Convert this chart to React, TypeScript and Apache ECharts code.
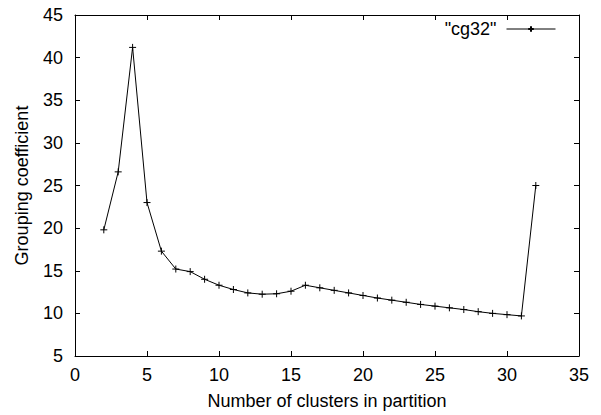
import React, { useEffect, useRef } from "react";
import * as echarts from "echarts";

const xValues = [2, 3, 4, 5, 6, 7, 8, 9, 10, 11, 12, 13, 14, 15, 16, 17, 18, 19, 20, 21, 22, 23, 24, 25, 26, 27, 28, 29, 30, 31, 32];
const yValues = [19.8, 26.6, 41.2, 23.0, 17.3, 15.2, 14.9, 14.0, 13.3, 12.8, 12.4, 12.25, 12.3, 12.6, 13.3, 13.0, 12.7, 12.4, 12.1, 11.8, 11.55, 11.3, 11.05, 10.85, 10.65, 10.45, 10.2, 10.0, 9.85, 9.7, 25.0];
const seriesName = '"cg32"';
const xAxisTitle = "Number of clusters in partition";
const yAxisTitle = "Grouping coefficient";

const FONT = "Liberation Sans";
const FS = 18;

export default function App() {
  const ref = useRef<HTMLDivElement>(null);
  useEffect(() => {
    if (!ref.current) return;
    const chart = echarts.init(ref.current, undefined, { renderer: "svg" });
    const axisLineStyle = { color: "#000", width: 1 };
    const plus = "path://M0,-1L0,1M-1,0L1,0";
    chart.setOption({
      animation: false,
      backgroundColor: "#fff",
      grid: { left: 75, right: 22, top: 15, bottom: 58 },
      legend: {
        top: 20,
        right: 45,
        align: "right",
        itemWidth: 49,
        itemHeight: 7,
        itemGap: 0,
        padding: 0,
        lineStyle: { width: 1, color: "#000" },
        textStyle: { fontFamily: FONT, fontSize: FS, color: "#000", padding: [0, 5, 0, 0] },
        data: [{ name: seriesName }],
      },
      xAxis: [
        {
          type: "value",
          min: 0,
          max: 35,
          interval: 5,
          name: xAxisTitle,
          nameLocation: "middle",
          nameGap: 36,
          nameTextStyle: { fontFamily: FONT, fontSize: FS, color: "#000" },
          axisLine: { show: true, onZero: false, lineStyle: axisLineStyle },
          axisTick: { show: true, inside: true, length: 5, lineStyle: axisLineStyle },
          axisLabel: { fontFamily: FONT, fontSize: FS, color: "#000", margin: 10 },
          splitLine: { show: false },
        },
        {
          type: "value",
          position: "top",
          min: 0,
          max: 35,
          interval: 5,
          axisLine: { show: true, onZero: false, lineStyle: axisLineStyle },
          axisTick: { show: true, inside: true, length: 5, lineStyle: axisLineStyle },
          axisLabel: { show: false },
          splitLine: { show: false },
        },
      ],
      yAxis: [
        {
          type: "value",
          min: 5,
          max: 45,
          interval: 5,
          name: yAxisTitle,
          nameLocation: "middle",
          nameGap: 44,
          nameRotate: 90,
          nameTextStyle: { fontFamily: FONT, fontSize: FS, color: "#000" },
          axisLine: { show: true, onZero: false, lineStyle: axisLineStyle },
          axisTick: { show: true, inside: true, length: 5, lineStyle: axisLineStyle },
          axisLabel: { fontFamily: FONT, fontSize: FS, color: "#000", margin: 12 },
          splitLine: { show: false },
        },
        {
          type: "value",
          position: "right",
          min: 5,
          max: 45,
          interval: 5,
          axisLine: { show: true, onZero: false, lineStyle: axisLineStyle },
          axisTick: { show: true, inside: true, length: 5, lineStyle: axisLineStyle },
          axisLabel: { show: false },
          splitLine: { show: false },
        },
      ],
      series: [
        {
          name: seriesName,
          type: "line",
          xAxisIndex: 0,
          yAxisIndex: 0,
          data: xValues.map((x, i) => [x, yValues[i]]),
          symbol: plus,
          symbolSize: 7,
          showSymbol: true,
          lineStyle: { color: "#000", width: 1 },
          itemStyle: { color: "#000", borderColor: "#000", borderWidth: 1 },
        },
      ],
    });
    return () => chart.dispose();
  }, []);
  return <div ref={ref} style={{ position: "fixed", left: 0, top: 0, width: 601, height: 415 }} />;
}
